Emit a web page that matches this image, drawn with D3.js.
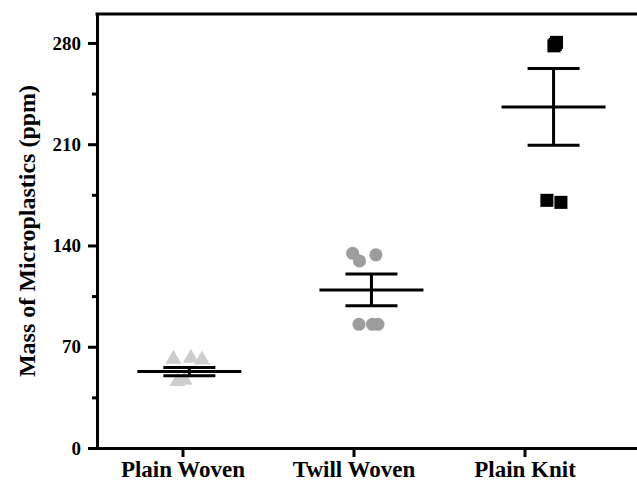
<!DOCTYPE html>
<html>
<head>
<meta charset="utf-8">
<script src="https://cdn.jsdelivr.net/npm/d3@7"></script>
<style>
  body { margin: 0; background: #fff; }
  svg { display: block; }
  .axis path, .axis line { stroke: #000; stroke-width: 3px; }
  .axis text { font-family: "Liberation Serif", "Times New Roman", serif; font-weight: bold; fill: #000; }
</style>
</head>
<body>
<div id="chart"></div>
<script>
// data
const categories = ['Plain Woven', 'Twill Woven', 'Plain Knit'];
const categoryPos = [1, 2, 3];
const groupPos = [1.04, 2.105, 3.17];       // where mean / error bar sit
const means = [52.8, 109.3, 235.8];
const sems = [2.8, 11.0, 26.6];

const plainWoven = [
    { x: 0.947, y: 61.5 }, { x: 1.049, y: 62.2 }, { x: 1.114, y: 60.9 },
    { x: 0.971, y: 46.0 }, { x: 1.012, y: 47.0 }
];
const twillWoven = [
    { x: 1.995, y: 134.6 }, { x: 2.035, y: 129.3 }, { x: 2.131, y: 133.5 },
    { x: 2.032, y: 85.5 }, { x: 2.111, y: 85.5 }, { x: 2.143, y: 85.5 }
];
const plainKnit = [
    { x: 3.172, y: 278.0 }, { x: 3.187, y: 280.4 }, { x: 3.180, y: 279.0 },
    { x: 3.131, y: 171.2 }, { x: 3.213, y: 169.8 }
];

const yMajor = [0, 70, 140, 210, 280];
const yMinor = [35, 105, 175, 245];

(function() {
    const width = 637, height = 483;
    const svg = d3.select('#chart').append('svg')
        .attr('width', width)
        .attr('height', height);

    const x = d3.scaleLinear().domain([0.5, 3.7]).range([97, 97 + 3.2 * 171]);
    const y = d3.scaleLinear().domain([0, 300]).range([448, 14]);

    // top frame line
    svg.append('line')
        .attr('x1', x(0.5)).attr('x2', x(3.7))
        .attr('y1', y(300)).attr('y2', y(300))
        .attr('stroke', '#000').attr('stroke-width', 3)
        .attr('stroke-linecap', 'square');

    // minor ticks
    svg.append('g')
        .attr('class', 'axis')
        .attr('transform', `translate(${x(0.5)},0)`)
        .call(d3.axisLeft(y).tickValues(yMinor).tickSize(5).tickFormat(''))
        .call(g => g.select('.domain').remove());

    const yAxis = svg.append('g')
        .attr('class', 'axis')
        .attr('transform', `translate(${x(0.5)},0)`)
        .call(d3.axisLeft(y).tickValues(yMajor).tickSize(9).tickSizeOuter(0).tickPadding(7));
    yAxis.selectAll('text').style('font-size', '19px');
    yAxis.select('.domain').attr('stroke-linecap', 'square');

    const xAxis = svg.append('g')
        .attr('class', 'axis')
        .attr('transform', `translate(0,${y(0)})`)
        .call(d3.axisBottom(x).tickValues(categoryPos).tickSize(9).tickSizeOuter(0).tickPadding(4)
            .tickFormat((d, i) => categories[i]));
    xAxis.selectAll('text').style('font-size', '23px');
    xAxis.select('.domain').attr('stroke-linecap', 'square');

    // y title
    svg.append('text')
        .attr('transform', `translate(35,${(y(0) + y(300)) / 2}) rotate(-90)`)
        .attr('text-anchor', 'middle')
        .style('font-family', '"Liberation Serif", "Times New Roman", serif')
        .style('font-weight', 'bold')
        .style('font-size', '24px')
        .text('Mass of Microplastics (ppm)');

    // points
    const groups = [
        { data: plainWoven, type: d3.symbolTriangle, size: 112, fill: '#cdcdcd' },
        { data: twillWoven, type: d3.symbolCircle, size: 135, fill: '#9d9d9d' },
        { data: plainKnit, type: d3.symbolSquare, size: 170, fill: '#000' }
    ];
    groups.forEach(gr => {
        svg.append('g')
            .selectAll('path')
            .data(gr.data)
            .enter().append('path')
            .attr('d', d3.symbol().type(gr.type).size(gr.size))
            .attr('transform', d => `translate(${x(d.x)},${y(d.y)})`)
            .attr('fill', gr.fill);
    });

    // mean and error bars
    const meanHalf = 52, capHalf = 26;
    const bars = svg.append('g')
        .selectAll('g')
        .data(means.map((m, i) => ({ m: m, s: sems[i], pos: groupPos[i] })))
        .enter().append('g')
        .attr('stroke', '#000')
        .attr('stroke-width', 3);

    bars.append('line')
        .attr('x1', d => x(d.pos) - meanHalf).attr('x2', d => x(d.pos) + meanHalf)
        .attr('y1', d => y(d.m)).attr('y2', d => y(d.m));
    bars.append('line')
        .attr('x1', d => x(d.pos)).attr('x2', d => x(d.pos))
        .attr('y1', d => y(d.m - d.s)).attr('y2', d => y(d.m + d.s));
    bars.append('line')
        .attr('x1', d => x(d.pos) - capHalf).attr('x2', d => x(d.pos) + capHalf)
        .attr('y1', d => y(d.m + d.s)).attr('y2', d => y(d.m + d.s));
    bars.append('line')
        .attr('x1', d => x(d.pos) - capHalf).attr('x2', d => x(d.pos) + capHalf)
        .attr('y1', d => y(d.m - d.s)).attr('y2', d => y(d.m - d.s));
})();
</script>
</body>
</html>
